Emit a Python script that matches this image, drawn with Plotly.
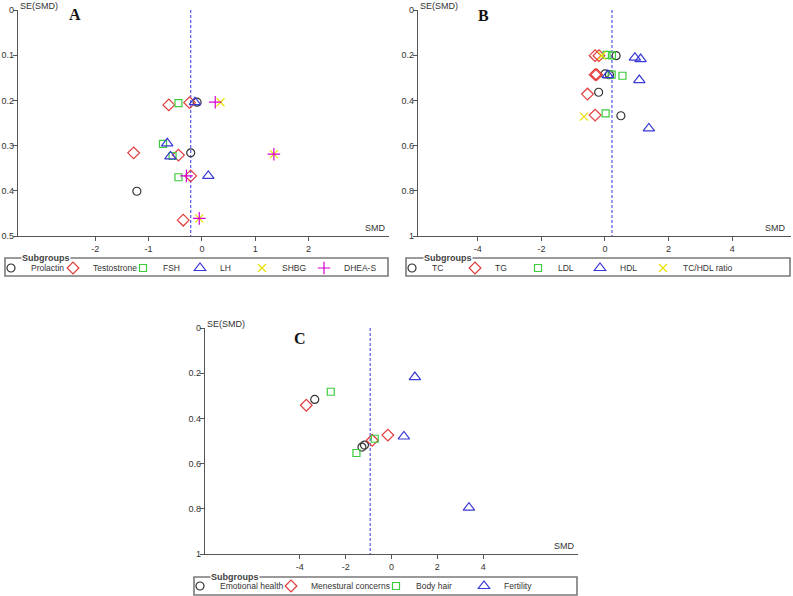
import plotly.graph_objects as go

W, H = 793, 596

# ---------------- Panel A: hormones ----------------
a_prolactin_smd = [-0.09, -0.21, -1.22]
a_prolactin_se = [0.204, 0.316, 0.401]
a_testo_smd = [-0.62, -0.23, -1.28, -0.44, -0.21, -0.35]
a_testo_se = [0.210, 0.205, 0.316, 0.321, 0.367, 0.465]
a_fsh_smd = [-0.44, -0.73, -0.55, -0.44]
a_fsh_se = [0.206, 0.296, 0.323, 0.370]
a_lh_smd = [-0.13, -0.65, -0.59, 0.12]
a_lh_se = [0.204, 0.295, 0.324, 0.367]
a_shbg_smd = [0.35, 1.35, -0.05]
a_shbg_se = [0.204, 0.319, 0.461]
a_dhea_smd = [0.25, 1.35, -0.29, -0.05]
a_dhea_se = [0.204, 0.319, 0.367, 0.461]
a_pooled = -0.21

# ---------------- Panel B: lipids ----------------
b_tc_smd = [0.35, 0.00, 0.14, -0.20, 0.50]
b_tc_se = [0.202, 0.283, 0.286, 0.364, 0.468]
b_tg_smd = [-0.31, -0.19, -0.31, -0.26, -0.55, -0.31]
b_tg_se = [0.202, 0.202, 0.286, 0.286, 0.372, 0.465]
b_ldl_smd = [0.05, 0.22, 0.21, 0.55, 0.02]
b_ldl_se = [0.199, 0.201, 0.286, 0.291, 0.457]
b_hdl_smd = [0.94, 1.12, 0.09, 1.08, 1.38]
b_hdl_se = [0.211, 0.217, 0.288, 0.310, 0.524]
b_ratio_smd = [-0.10, -0.66]
b_ratio_se = [0.202, 0.472]
b_pooled = 0.22

# ---------------- Panel C: quality of life ----------------
c_emo_smd = [-3.35, -1.29, -1.18]
c_emo_se = [0.316, 0.527, 0.518]
c_men_smd = [-3.72, -0.84, -0.16]
c_men_se = [0.342, 0.497, 0.474]
c_hair_smd = [-2.65, -0.73, -1.53]
c_hair_se = [0.282, 0.490, 0.553]
c_fert_smd = [1.02, 0.54, 3.38]
c_fert_se = [0.217, 0.480, 0.795]
c_pooled = -0.93

a_xticks = [-2, -1, 0, 1, 2]
b_xticks = [-4, -2, 0, 2, 4]
c_xticks = [-4, -2, 0, 2, 4]
a_yticks = [0, 0.1, 0.2, 0.3, 0.4, 0.5]
bc_yticks = [0, 0.2, 0.4, 0.6, 0.8, 1]

# styles
STY = {
    "circle": dict(symbol="circle-open", size=8, color="#333333"),
    "diamond": dict(symbol="diamond-open", size=9, color="#e23b3b"),
    "square": dict(symbol="square-open", size=7, color="#3dcc3d"),
    "triangle": dict(symbol="triangle-up-open", size=10, color="#3a3ad6"),
    "x": dict(symbol="x-thin-open", size=8, color="#e8e000"),
    "plus": dict(symbol="cross-thin-open", size=9, color="#d400d4"),
}

FONT = "Liberation Sans, Arial, sans-serif"
fig = go.Figure()


def add_series(name, xs, ys, style, ax, legend, lw):
    s = STY[style]
    fig.add_trace(go.Scatter(
        x=xs, y=ys, mode="markers", name=name,
        xaxis="x" + ax, yaxis="y" + ax, legend=legend, legendwidth=lw,
        marker=dict(symbol=s["symbol"], size=s["size"], color=s["color"],
                    line=dict(color=s["color"], width=1.2)),
        hoverinfo="skip", cliponaxis=False,
    ))


def add_pooled(val, ymax, ax):
    fig.add_trace(go.Scatter(
        x=[val, val], y=[0, ymax], mode="lines", showlegend=False,
        xaxis="x" + ax, yaxis="y" + ax,
        line=dict(color="#5656f0", width=1.2, dash="3px,2px"), hoverinfo="skip"))


# Panel A
add_pooled(a_pooled, 0.5, "")
add_series("Prolactin", a_prolactin_smd, a_prolactin_se, "circle", "", "legend", 32)
add_series("Testostrone", a_testo_smd, a_testo_se, "diamond", "", "legend", 40)
add_series("FSH", a_fsh_smd, a_fsh_se, "square", "", "legend", 27)
add_series("LH", a_lh_smd, a_lh_se, "triangle", "", "legend", 32)
add_series("SHBG", a_shbg_smd, a_shbg_se, "x", "", "legend", 32)
add_series("DHEA-S", a_dhea_smd, a_dhea_se, "plus", "", "legend", 40)

# Panel B
add_pooled(b_pooled, 1, "2")
add_series("TC", b_tc_smd, b_tc_se, "circle", "2", "legend2", 33)
add_series("TG", b_tg_smd, b_tg_se, "diamond", "2", "legend2", 33)
add_series("LDL", b_ldl_smd, b_ldl_se, "square", "2", "legend2", 32)
add_series("HDL", b_hdl_smd, b_hdl_se, "triangle", "2", "legend2", 33)
add_series("TC/HDL ratio", b_ratio_smd, b_ratio_se, "x", "2", "legend2", 55)

# Panel C
add_pooled(c_pooled, 1, "3")
add_series("Emotional health", c_emo_smd, c_emo_se, "circle", "3", "legend3", 61)
add_series("Menestural concerns", c_men_smd, c_men_se, "diamond", "3", "legend3", 75)
add_series("Body hair", c_hair_smd, c_hair_se, "square", "3", "legend3", 58)
add_series("Fertility", c_fert_smd, c_fert_se, "triangle", "3", "legend3", 45)


def px(v):
    return v / W


def py(v):
    return 1 - v / H


def xax(dom, rng, ticks, anchor):
    return dict(domain=[px(dom[0]), px(dom[1])], range=rng, anchor=anchor,
                tickvals=ticks, ticktext=[str(t) for t in ticks],
                showgrid=False, zeroline=False, showline=True,
                linecolor="#555555", linewidth=1.3, ticks="outside", ticklen=4,
                tickcolor="#555555", tickfont=dict(family=FONT, size=9, color="#333"),
                fixedrange=True)


def yax(dom, rng, ticks, anchor):
    return dict(domain=[py(dom[1]), py(dom[0])], range=rng, anchor=anchor,
                tickvals=ticks, ticktext=[("%g" % t) for t in ticks],
                showgrid=False, zeroline=False, showline=True,
                linecolor="#555555", linewidth=1.3, ticks="outside", ticklen=4,
                ticklabelstandoff=-3,
                tickcolor="#555555", tickfont=dict(family=FONT, size=9, color="#333"),
                fixedrange=True)


leg_common = dict(orientation="h", yanchor="middle", xanchor="left",
                  bgcolor="rgba(0,0,0,0)", borderwidth=0, indentation=-15,
                  font=dict(family=FONT, size=8.5, color="#333"),
                  itemclick=False, itemdoubleclick=False, tracegroupgap=0)

shapes = []
annotations = []


def legend_box(x0, x1, y0, y1, title_x):
    shapes.append(dict(type="rect", xref="paper", yref="paper",
                       x0=px(x0), x1=px(x1), y0=py(y1), y1=py(y0),
                       line=dict(color="#7a7a7a", width=1.6), fillcolor="white", layer="below"))
    annotations.append(dict(text="<b>Subgroups</b>", xref="paper", yref="paper",
                            x=px(title_x), y=py(y0), xanchor="left", yanchor="middle",
                            showarrow=False, bgcolor="white", borderpad=0,
                            font=dict(family=FONT, size=9, color="#444")))


def axis_labels(xl, xr, ytop, ybot, letter, lx, ly):
    annotations.append(dict(text="SE(SMD)", xref="paper", yref="paper",
                            x=px(xl + 1), y=py(ytop - 4), xanchor="left", yanchor="middle",
                            showarrow=False, borderpad=0,
                            font=dict(family=FONT, size=9, color="#333")))
    annotations.append(dict(text="SMD", xref="paper", yref="paper",
                            x=px(xr - 2), y=py(ybot - 2), xanchor="right", yanchor="bottom",
                            showarrow=False, borderpad=0,
                            font=dict(family=FONT, size=9, color="#333")))
    annotations.append(dict(text="<b>%s</b>" % letter, xref="paper", yref="paper",
                            x=px(lx), y=py(ly), xanchor="center", yanchor="middle",
                            showarrow=False,
                            font=dict(family="Liberation Serif, DejaVu Serif, serif", size=16, color="#111")))


legend_box(5, 388, 258, 276, 21)
legend_box(406, 790, 258, 276, 423)
legend_box(194, 577, 577, 595, 210)
axis_labels(18, 389, 10, 236, "A", 75, 14)
axis_labels(418, 789, 10, 236, "B", 483, 15)
axis_labels(205, 578, 328, 554, "C", 300, 338)

fig.update_layout(
    width=W, height=H, margin=dict(l=0, r=0, t=0, b=0, autoexpand=False),
    paper_bgcolor="white", plot_bgcolor="white", hovermode=False,
    xaxis=xax((18, 389), [-3.45, 3.51], a_xticks, "y"),
    yaxis=yax((10, 236), [0.5, 0], a_yticks, "x"),
    xaxis2=xax((418, 791), [-5.88, 5.85], b_xticks, "y2"),
    yaxis2=yax((10, 236), [1, 0], bc_yticks, "x2"),
    xaxis3=xax((205, 578), [-8.14, 8.14], c_xticks, "y3"),
    yaxis3=yax((328, 554), [1, 0], bc_yticks, "x3"),
    legend=dict(leg_common, x=px(6), y=py(268)),
    legend2=dict(leg_common, x=px(407), y=py(268)),
    legend3=dict(leg_common, x=px(195), y=py(586)),
    shapes=shapes, annotations=annotations,
)

fig.write_html("out.html", config={"displayModeBar": False, "staticPlot": True},
               post_script="document.body.style.margin='0px';")
